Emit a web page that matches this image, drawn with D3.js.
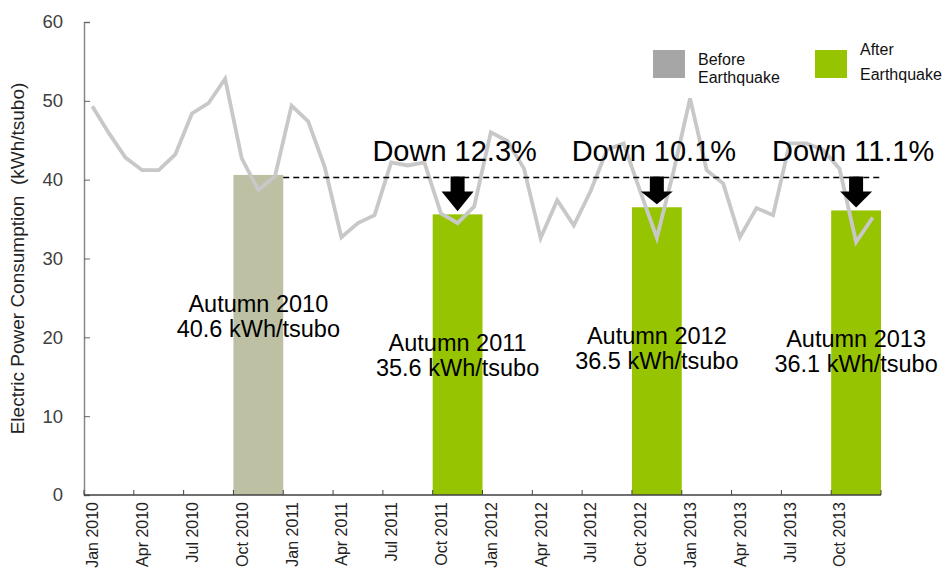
<!DOCTYPE html>
<html>
<head>
<meta charset="utf-8">
<script src="https://cdn.jsdelivr.net/npm/d3@7"></script>
<style>
    body { margin: 0; background: #fff; }
    svg text { font-family: Arial, "Liberation Sans", sans-serif; }
</style>
</head>
<body>
<div id="chart"></div>
<script>
// monthly consumption, Jan 2010 .. Dec 2013 (kWh/tsubo)
var monthly = [
    49.3, 45.9, 42.8, 41.2, 41.2, 43.2, 48.4, 49.7, 52.8, 42.7, 38.7, 40.4,
    49.4, 47.4, 41.6, 32.7, 34.5, 35.5, 42.2, 41.8, 42.2, 35.7, 34.5, 36.6,
    46.0, 44.9, 41.4, 32.6, 37.4, 34.2, 38.5, 43.8, 44.6, 38.5, 32.6, 41.0,
    50.3, 41.2, 39.5, 32.7, 36.4, 35.5, 44.6, 44.6, 43.8, 41.4, 32.1, 35.2
];

// autumn averages (Oct-Dec)
var autumnYears = [2010, 2011, 2012, 2013];
var autumnValues = [40.6, 35.6, 36.5, 36.1];
var autumnLabels = ["Autumn 2010", "Autumn 2011", "Autumn 2012", "Autumn 2013"];
var downLabels = [null, "Down 12.3%", "Down 10.1%", "Down 11.1%"];

var yTicks = [0, 10, 20, 30, 40, 50, 60];
var legendItems = [
    { lines: ["Before", "Earthquake"], color: "#a6a6a6" },
    { lines: ["After", "Earthquake"], color: "#96c400" }
];

var W = 948, H = 569;
var margin = { left: 84, top: 22, right: 67, bottom: 74 };

var months = d3.timeMonth.range(new Date(2010, 0, 1), new Date(2014, 0, 1));
var fmt = d3.timeFormat("%b %Y");

var svg = d3.select("#chart").append("svg")
    .attr("width", W)
    .attr("height", H);

var x = d3.scaleBand()
    .domain(months.map(fmt))
    .range([margin.left, W - margin.right])
    .padding(0);
var bw = x.bandwidth();

var y = d3.scaleLinear()
    .domain([0, 60])
    .range([H - margin.bottom, margin.top]);

// bars (Oct..Dec of each year)
var bars = autumnYears.map((yr, i) => ({
    year: yr,
    value: autumnValues[i],
    label: autumnLabels[i],
    down: downLabels[i],
    x0: x(fmt(new Date(yr, 9, 1))),
    x1: x(fmt(new Date(yr, 11, 1))) + bw
}));

svg.selectAll(".bar")
    .data(bars)
    .enter()
    .append("rect")
    .attr("class", "bar")
    .attr("x", d => d.x0)
    .attr("y", d => y(d.value))
    .attr("width", d => d.x1 - d.x0)
    .attr("height", d => y(0) - y(d.value))
    .attr("fill", (d, i) => i == 0 ? "#bdc0a3" : "#96c400");

// monthly line
var line = d3.line()
    .x((d, i) => x(fmt(months[i])) + bw / 2)
    .y(d => y(d));

svg.append("path")
    .datum(monthly)
    .attr("d", line)
    .attr("fill", "none")
    .attr("stroke", "#c8c8c8")
    .attr("stroke-width", 3.8)
    .attr("stroke-linejoin", "miter");

// dashed reference line at the 2010 level
var refY = y(autumnValues[0]) + 2.5;
svg.append("line")
    .attr("x1", bars[0].x1)
    .attr("x2", bars[bars.length - 1].x1)
    .attr("y1", refY)
    .attr("y2", refY)
    .attr("stroke", "#000")
    .attr("stroke-width", 1.5)
    .attr("stroke-dasharray", "6,4");

// y axis
var yAxis = d3.axisLeft(y)
    .tickValues(yTicks)
    .tickSize(-6)
    .tickPadding(21);
var gy = svg.append("g")
    .attr("transform", "translate(" + margin.left + ",0)")
    .call(yAxis);
gy.select(".domain").attr("stroke", "#888").attr("stroke-width", 1.5);
gy.selectAll(".tick line").attr("stroke", "#666");
gy.selectAll(".tick text")
    .attr("font-size", 18.5)
    .attr("fill", "#404040");

// x axis: ticks at quarter boundaries, labels centred in the month
var quarterTicks = months.filter(m => m.getMonth() % 3 == 0).map(fmt);
var gx = svg.append("g")
    .attr("transform", "translate(0," + y(0) + ")");
gx.append("line")
    .attr("x1", margin.left)
    .attr("x2", W - margin.right)
    .attr("stroke", "#404040")
    .attr("stroke-width", 1.5);
gx.selectAll(".xtick")
    .data(quarterTicks.map(q => x(q)).concat([W - margin.right]))
    .enter()
    .append("line")
    .attr("x1", d => d)
    .attr("x2", d => d)
    .attr("y1", 0)
    .attr("y2", -5)
    .attr("stroke", "#404040");
gx.selectAll(".xlabel")
    .data(quarterTicks)
    .enter()
    .append("text")
    .attr("transform", d => "translate(" + (x(d) + bw / 2 + 6) + ",7) rotate(-90)")
    .attr("text-anchor", "end")
    .attr("font-size", 16)
    .attr("fill", "#222")
    .text(d => d);

// y label
svg.append("text")
    .attr("transform", "translate(24," + (margin.top + (y(0) - margin.top) / 2) + ") rotate(-90)")
    .attr("text-anchor", "middle")
    .attr("font-size", 19)
    .attr("fill", "#222")
    .attr("xml:space", "preserve")
    .text("Electric Power Consumption  (kWh/tsubo)");

// bar labels
var labels = svg.selectAll(".blabel")
    .data(bars)
    .enter()
    .append("text")
    .attr("text-anchor", "middle")
    .attr("font-size", 23.5)
    .attr("fill", "#000");
labels.append("tspan")
    .attr("x", d => (d.x0 + d.x1) / 2)
    .attr("y", d => y(d.value) + 137)
    .text(d => d.label);
labels.append("tspan")
    .attr("x", d => (d.x0 + d.x1) / 2)
    .attr("dy", 25)
    .text(d => d.value.toFixed(1) + " kWh/tsubo");

// down arrows + percentages
var after = bars.filter(d => d.down);
svg.selectAll(".arrow")
    .data(after)
    .enter()
    .append("path")
    .attr("d", d => {
        var cx = (d.x0 + d.x1) / 2, top = refY - 1, tip = y(d.value) - 3, head = top + 15;
        return "M" + (cx - 7) + "," + top + "H" + (cx + 7) + "V" + head +
            "H" + (cx + 16) + "L" + cx + "," + tip + "L" + (cx - 16) + "," + head +
            "H" + (cx - 7) + "Z";
    })
    .attr("fill", "#000");
svg.selectAll(".down")
    .data(after)
    .enter()
    .append("text")
    .attr("x", d => (d.x0 + d.x1) / 2 - 3)
    .attr("y", refY - 16)
    .attr("text-anchor", "middle")
    .attr("font-size", 29)
    .attr("fill", "#000")
    .text(d => d.down);

// legend
var lg = svg.selectAll(".legend")
    .data(legendItems)
    .enter()
    .append("g")
    .attr("transform", (d, i) => "translate(" + (653 + i * 162) + ",50)");
lg.append("rect")
    .attr("width", 32)
    .attr("height", 28)
    .attr("fill", d => d.color);
lg.append("text")
    .attr("font-size", 16)
    .attr("fill", "#111")
    .selectAll("tspan")
    .data((d, i) => d.lines.map(t => ({ t: t, i: i })))
    .enter()
    .append("tspan")
    .attr("x", 45)
    .attr("y", (d, j) => (d.i == 0 ? 15 : 5) + j * (d.i == 0 ? 18 : 25))
    .text(d => d.t);
</script>
</body>
</html>
